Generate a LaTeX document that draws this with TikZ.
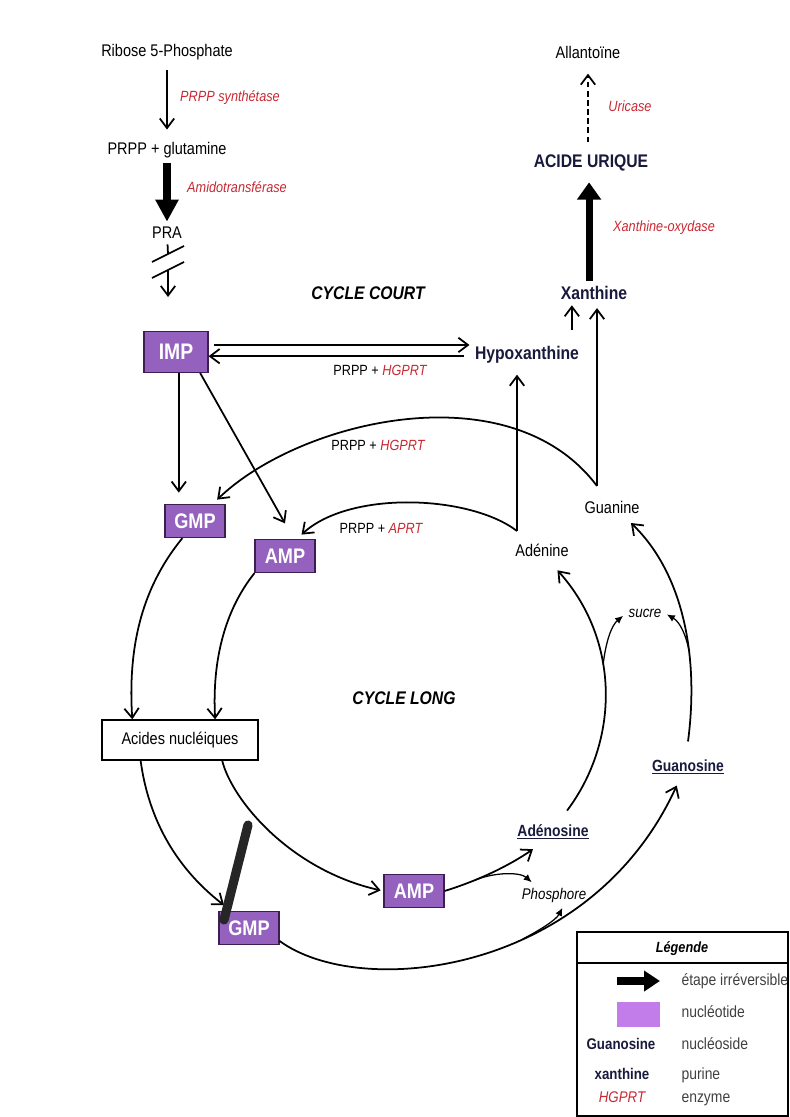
\documentclass[tikz,border=0pt]{standalone}
\usepackage{fontspec}
\setmainfont{Liberation Sans}[FakeStretch=0.86]
\usetikzlibrary{arrows.meta}
\definecolor{enzred}{RGB}{200,40,50}
\definecolor{purnavy}{RGB}{25,25,60}
\definecolor{nucfill}{RGB}{148,98,190}
\definecolor{nucdraw}{RGB}{60,30,80}
\definecolor{legfill}{RGB}{195,125,235}
\begin{document}
\begin{tikzpicture}[>={Straight Barb[length=2.4mm,width=3.6mm]},x=0.025cm,y=-0.025cm,line width=1.25pt,
		txt/.style={font=\fontsize{12}{14}\selectfont},
		enz/.style={font=\fontsize{10.5}{12}\selectfont\itshape,text=enzred},
		lbl/.style={font=\fontsize{10.5}{12}\selectfont},
		pur/.style={font=\fontsize{13}{15}\selectfont\bfseries,text=purnavy},
		nos/.style={font=\fontsize{11.5}{13}\selectfont\bfseries,text=purnavy},
		nuc/.style={draw=nucdraw,line width=0.8pt,fill=nucfill,text=white,font=\fontsize{15}{17}\selectfont\bfseries,minimum width=1.5cm,minimum height=0.83cm,inner sep=0pt},
		cyc/.style={font=\fontsize{13}{15}\selectfont\bfseries\itshape},
		irr/.style={line width=6pt,-{Triangle[length=5.5mm,width=5.5mm]}},
		brch/.style={line width=0.9pt,-{Latex[length=2mm,width=1.8mm]}},
		legrow/.style={text height=1.6ex,text depth=0.3ex},
		leg/.style={legrow,font=\fontsize{11.5}{13}\selectfont,text=black!75}]
	\useasboundingbox (0,0) rectangle (789,1117);
	% voie de synthese
	\node[txt] (R5P) at (167,52) {Ribose 5-Phosphate};
	\node[txt] (PRPP) at (167,150) {PRPP + glutamine};
	\node[txt] (PRA) at (167,233) {PRA};
	\node[enz] (e1) at (230,98) {PRPP synthétase};
	\node[enz] (e2) at (237,187) {Amidotransférase};
	\draw[->,shorten <=3pt,shorten >=5pt] (R5P) -- (PRPP);
	\draw[irr] (PRPP) -- (PRA);
	\coordinate (s1) at (168,254);
	\coordinate (s2) at (168,270);
	\coordinate (PRAend) at (168,297);
	\draw (PRA) -- (s1);
	\draw[->] (s2) -- (PRAend);
	\draw ([shift={(-16,8)}]s1) -- ([shift={(16,-8)}]s1);
	\draw ([shift={(-16,8)}]s2) -- ([shift={(16,-8)}]s2);
	% cycle court
	\node[cyc] (CC) at (368,293) {CYCLE COURT};
	\node[nuc,minimum width=1.6cm,minimum height=1.02cm,font=\fontsize{16}{18}\selectfont\bfseries] (IMP) at (176,352) {IMP};
	\node[pur] (Hyp) at (527,355) {Hypoxanthine};
	\node[pur] (Xan) at (594,293) {Xanthine};
	\node[pur] (AU) at (591,163) {ACIDE URIQUE};
	\node[txt] (All) at (588,52) {Allantoïne};
	\node[enz] (e3) at (630,106) {Uricase};
	\node[enz] (e4) at (664,228) {Xanthine-oxydase};
	\draw[->,dashed,dash pattern=on 4pt off 2.5pt,shorten <=5pt,shorten >=7pt] (AU.north -| All.south) -- (All.south);
	\draw[line width=5pt,-{Triangle[length=4.3mm,width=5.8mm]},shorten >=4pt] ([xshift=-3.5pt]Xan.north) -- ([xshift=-3.5pt]Xan.north |- AU.south);
	\draw[->,shorten <=4pt] ([yshift=5pt]IMP.east) -- ([yshift=5pt]IMP.east -| Hyp.west);
	\draw[->,shorten <=4pt] ([yshift=-3pt]IMP.east -| Hyp.west) -- ([yshift=-3pt]IMP.east);
	\node[lbl] (h1) at (380,370) {PRPP + \textcolor{enzred}{\itshape HGPRT}};
	\draw[->] ([xshift=-9pt,yshift=8pt]Hyp.north east) -- ([xshift=-9pt]Hyp.north east |- Xan.south);
	% recuperation des bases
	\node[nuc] (GMPa) at (195,521) {GMP};
	\node[nuc] (AMPa) at (285,556) {AMP};
	\node[txt] (Gua) at (612,507) {Guanine};
	\node[txt] (Ade) at (542,550) {Adénine};
	\coordinate (gx) at (597,486);
	\coordinate (ax) at (517,531);
	\draw[->,shorten >=2pt] (gx) -- (gx |- Xan.south);
	\draw[->,shorten >=4pt] (ax) -- (ax |- Hyp.south);
	\draw[->] (gx) .. controls (510,370) and (300,420) .. ([xshift=-6pt,yshift=3pt]GMPa.north east);
	\draw[->] (ax) .. controls (470,495) and (350,490) .. ([xshift=-10pt,yshift=3pt]AMPa.north east);
	\node[lbl] (h2) at (378,445) {PRPP + \textcolor{enzred}{\itshape HGPRT}};
	\node[lbl] (h3) at (381,528) {PRPP + \textcolor{enzred}{\itshape APRT}};
	\draw[->,shorten >=8pt] ([xshift=2pt]IMP.south) -- ([xshift=2pt]IMP.south |- GMPa.north);
	\draw[->] ([xshift=-6pt]IMP.south east) -- ([yshift=11pt]AMPa.north);
	% cycle long
	\node[draw,fill=white,line width=0.9pt,minimum width=3.9cm,minimum height=1cm,txt] (AN) at (180,740) {Acides nucléiques};
	\node[cyc] (CL) at (404,698) {CYCLE LONG};
	\node[nuc] (AMPb) at (414,891) {AMP};
	\node[nuc] (GMPb) at (249,928) {GMP};
	\node[nos] (Ados) at (553,832) {\underline{Adénosine}};
	\node[nos] (Guos) at (688,767) {\underline{Guanosine}};
	\node[font=\fontsize{11}{13}\selectfont\itshape] (Pho) at (554,895) {Phosphore};
	\node[font=\fontsize{11}{13}\selectfont\itshape] (Suc) at (645,613) {sucre};
	\draw[->] ([xshift=-9pt]GMPa.south) .. controls (140,590) and (128,650) .. ([xshift=22pt]AN.north west);
	\draw[->] (AMPa.south west) .. controls (225,610) and (212,660) .. ([xshift=25pt]AN.north);
	\draw[->] ([xshift=-28pt]AN.south) .. controls (150,830) and (185,875) .. ([xshift=4pt,yshift=4pt]GMPb.north west);
	\draw[->,shorten >=2pt] ([xshift=30pt]AN.south) .. controls (232,800) and (290,870) .. (AMPb.west);
	\draw[->] (AMPb.east) .. controls (480,880) and (510,865) .. ([xshift=15pt,yshift=-3pt]Ados.south west) coordinate[pos=0.3] (ap);
	\draw[brch] (ap) .. controls (495,872) and (520,872) .. ([xshift=11pt]Pho.north west);
	\draw[->] ([yshift=3pt]GMPb.south east) .. controls (360,1000) and (590,975) .. ([xshift=-8pt,yshift=-4pt]Guos.south) coordinate[pos=0.6] (bp);
	\draw[brch] (bp) .. controls (540,930) and (556,920) .. ([xshift=6pt]Pho.south);
	\draw[->] ([xshift=10pt,yshift=6pt]Ados.north) .. controls (620,740) and (620,640) .. ([xshift=11pt,yshift=-6pt]Ade.south) coordinate[pos=0.6] (su1);
	\draw[brch] (su1) .. controls (606,640) and (612,625) .. ([yshift=-2pt]Suc.west);
	\draw[->] ([yshift=9pt]Guos.north) .. controls (700,650) and (680,570) .. ([xshift=-10pt,yshift=-3pt]Gua.south east) coordinate[pos=0.35] (su2);
	\draw[brch] (su2) .. controls (686,635) and (680,622) .. ([yshift=-1pt]Suc.east);
	\draw[line width=6.5pt,line cap=round,black!85] (248,825) -- (224,920);
	% legende
	\draw[line width=1pt] (577,932) rectangle (788,1116);
	\draw[line width=1pt] (577,963) -- (788,963);
	\node[font=\fontsize{10.5}{12}\selectfont\bfseries\itshape] (Leg) at (682,949) {Légende};
	\coordinate (la) at (617,981);
	\draw[line width=5pt,-{Triangle[length=4mm,width=5mm]}] (la) -- ++(43,0);
	\fill[legfill] (617,1002) rectangle (660,1027);
	\node[nos,legrow,font=\fontsize{11}{13}\selectfont\bfseries] (LGuos) at (621,1045) {Guanosine};
	\node[pur,legrow,font=\fontsize{11}{13}\selectfont\bfseries] (LXan) at (622,1075) {xanthine};
	\node[enz,legrow,font=\fontsize{11}{13}\selectfont\itshape] (LHG) at (622,1098) {HGPRT};
	\node[leg,anchor=west] (L1) at (676,981) {étape irréversible};
	\node[leg,anchor=west] (L2) at (676,1013) {nucléotide};
	\node[leg,anchor=west] (L3) at (676,1045) {nucléoside};
	\node[leg,anchor=west] (L4) at (676,1075) {purine};
	\node[leg,anchor=west] (L5) at (676,1098) {enzyme};
\end{tikzpicture}
\end{document}
